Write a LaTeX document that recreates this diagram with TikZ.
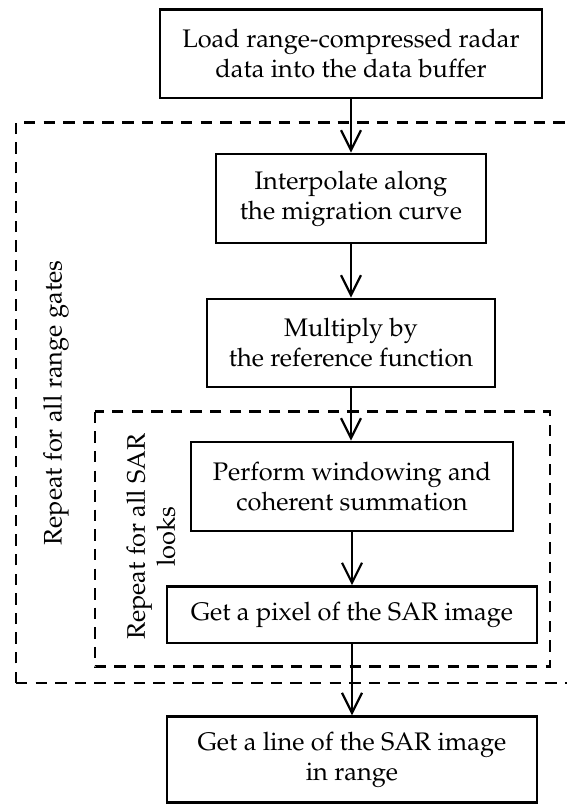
\documentclass[tikz,border=0pt]{standalone}
\usepackage[T1]{fontenc}
\usepackage{mathpazo}
\usetikzlibrary{arrows.meta}

\begin{document}
\begin{tikzpicture}[x=1pt,y=1pt,
	stepbox/.style={draw,line width=1.4pt,align=center,inner sep=2pt,font=\fontsize{12.7}{15}\selectfont},
	flow/.style={line width=1.1pt,-{Straight Barb[length=10pt,width=10pt]}},
	loopframe/.style={line width=1.3pt,dash pattern=on 5.7pt off 4.1pt},
	looplabel/.style={rotate=90,align=center,inner sep=0pt,font=\fontsize{12.7}{15}\selectfont}]
	\useasboundingbox (0,0) rectangle (283.5,-402);
			\draw[loopframe] (8,-341.5) -- (8,-61.35) -- (283.5,-61.35);
			\draw[loopframe] (8,-341.5) -- (283.5,-341.5);
			\draw[loopframe] (47.5,-205.85) rectangle (275,-333.35);
			\node[stepbox,minimum width=191pt,minimum height=44.25pt] (load) at (175.5,-26.9) {Load range-compressed radar\\data into the data buffer};
			\node[stepbox,minimum width=135pt,minimum height=44.5pt] (interp) at (175.5,-99.25) {Interpolate along\\the migration curve};
			\node[stepbox,minimum width=144pt,minimum height=44pt] (mult) at (175.5,-171.5) {Multiply by\\the reference function};
			\node[stepbox,minimum width=161pt,minimum height=44.5pt] (window) at (176,-243.25) {Perform windowing and\\coherent summation};
			\node[stepbox,minimum width=185pt,minimum height=28.2pt] (pixel) at (176,-307.4) {Get a pixel of the SAR image};
			\node[stepbox,minimum width=185pt,minimum height=42.7pt] (line) at (176,-379.7) {Get a line of the SAR image\\in range};
			\node[looplabel] (gateslabel) at (28,-201.5) {Repeat for all range gates};
			\node[looplabel] (lookslabel) at (75.5,-268.25) {Repeat for all SAR\\looks};
			\draw[flow] (load) -- (interp);
			\draw[flow] (interp) -- (mult);
			\draw[flow] (mult.south) -- (window.north -| mult.south);
			\draw[flow] (window) -- (pixel);
			\draw[flow] (pixel) -- (line);
\end{tikzpicture}
\end{document}
